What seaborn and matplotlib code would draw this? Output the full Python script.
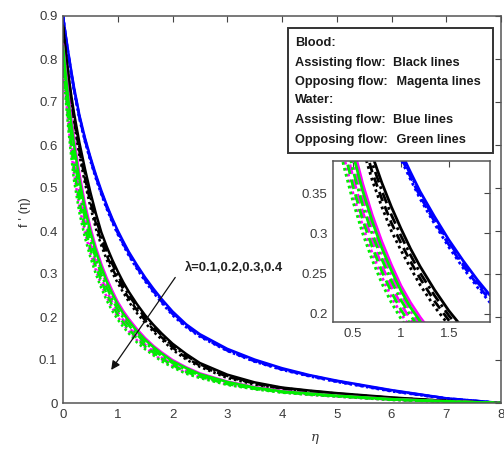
import matplotlib
matplotlib.use("Agg")
import matplotlib.pyplot as plt
import seaborn as sns
import pandas as pd
from matplotlib.patches import Rectangle

# similarity variable
eta = [0, 0.05, 0.1, 0.15, 0.2, 0.3, 0.4, 0.5, 0.6, 0.7, 0.8, 0.9, 1.0, 1.1, 1.2,
       1.35, 1.5, 1.65, 1.8, 2.0, 2.25, 2.5, 3.0, 3.5, 4.0, 4.5, 5.0, 6.0, 7.0, 8.0]
lambdas = [0.1, 0.2, 0.3, 0.4]

# f'(eta) for water, assisting flow
water_assist = {
    0.1: [0.900, 0.855, 0.813, 0.773, 0.735, 0.669, 0.617, 0.572, 0.531, 0.494, 0.460, 0.429, 0.401, 0.376, 0.352,
          0.321, 0.292, 0.266, 0.242, 0.213, 0.183, 0.160, 0.126, 0.101, 0.081, 0.065, 0.052, 0.030, 0.011, 0.000],
    0.2: [0.900, 0.853, 0.810, 0.770, 0.732, 0.666, 0.614, 0.569, 0.528, 0.491, 0.457, 0.426, 0.398, 0.373, 0.349,
          0.318, 0.289, 0.263, 0.239, 0.210, 0.180, 0.158, 0.124, 0.099, 0.079, 0.064, 0.051, 0.029, 0.011, 0.000],
    0.3: [0.900, 0.851, 0.807, 0.767, 0.729, 0.663, 0.611, 0.566, 0.525, 0.488, 0.454, 0.423, 0.395, 0.370, 0.346,
          0.315, 0.286, 0.260, 0.236, 0.207, 0.178, 0.156, 0.122, 0.097, 0.078, 0.063, 0.050, 0.028, 0.010, 0.000],
    0.4: [0.900, 0.849, 0.804, 0.764, 0.726, 0.660, 0.608, 0.563, 0.522, 0.485, 0.451, 0.420, 0.392, 0.367, 0.343,
          0.312, 0.283, 0.257, 0.233, 0.204, 0.176, 0.154, 0.121, 0.096, 0.077, 0.062, 0.049, 0.027, 0.010, 0.000],
}
# f'(eta) for blood, assisting flow
blood_assist = {
    0.1: [0.878, 0.817, 0.763, 0.716, 0.675, 0.605, 0.545, 0.490, 0.441, 0.397, 0.363, 0.333, 0.306, 0.281, 0.259,
          0.230, 0.204, 0.182, 0.162, 0.138, 0.114, 0.093, 0.066, 0.048, 0.036, 0.029, 0.023, 0.013, 0.005, 0.000],
    0.2: [0.876, 0.813, 0.757, 0.708, 0.667, 0.595, 0.534, 0.479, 0.429, 0.387, 0.353, 0.323, 0.297, 0.273, 0.251,
          0.223, 0.198, 0.177, 0.157, 0.133, 0.110, 0.090, 0.063, 0.046, 0.035, 0.028, 0.022, 0.012, 0.005, 0.000],
    0.3: [0.874, 0.809, 0.750, 0.699, 0.658, 0.585, 0.523, 0.467, 0.418, 0.376, 0.343, 0.313, 0.288, 0.265, 0.244,
          0.216, 0.192, 0.171, 0.153, 0.129, 0.105, 0.087, 0.061, 0.045, 0.033, 0.027, 0.021, 0.012, 0.004, 0.000],
    0.4: [0.872, 0.805, 0.744, 0.691, 0.650, 0.575, 0.512, 0.456, 0.406, 0.366, 0.333, 0.303, 0.279, 0.257, 0.236,
          0.209, 0.186, 0.166, 0.148, 0.124, 0.101, 0.084, 0.058, 0.043, 0.032, 0.026, 0.020, 0.011, 0.004, 0.000],
}
# f'(eta) for blood, opposing flow
blood_oppose = {
    0.1: [0.835, 0.773, 0.715, 0.663, 0.615, 0.533, 0.464, 0.408, 0.362, 0.323, 0.290, 0.261, 0.235, 0.214, 0.196,
          0.172, 0.151, 0.133, 0.118, 0.100, 0.083, 0.069, 0.050, 0.037, 0.028, 0.022, 0.017, 0.009, 0.004, 0.000],
    0.2: [0.825, 0.754, 0.692, 0.638, 0.588, 0.508, 0.442, 0.389, 0.345, 0.307, 0.275, 0.248, 0.224, 0.204, 0.186,
          0.163, 0.144, 0.127, 0.112, 0.095, 0.079, 0.066, 0.048, 0.036, 0.027, 0.021, 0.016, 0.008, 0.004, 0.000],
    0.3: [0.815, 0.734, 0.669, 0.612, 0.560, 0.481, 0.419, 0.369, 0.327, 0.291, 0.260, 0.234, 0.212, 0.193, 0.177,
          0.154, 0.136, 0.120, 0.106, 0.090, 0.074, 0.063, 0.045, 0.034, 0.026, 0.020, 0.016, 0.008, 0.003, 0.000],
    0.4: [0.805, 0.715, 0.646, 0.587, 0.533, 0.456, 0.397, 0.349, 0.309, 0.275, 0.246, 0.221, 0.200, 0.183, 0.167,
          0.146, 0.129, 0.114, 0.100, 0.086, 0.070, 0.060, 0.043, 0.033, 0.025, 0.019, 0.015, 0.007, 0.003, 0.000],
}
# f'(eta) for water, opposing flow
water_oppose = {
    0.1: [0.830, 0.763, 0.703, 0.650, 0.601, 0.519, 0.452, 0.398, 0.353, 0.315, 0.282, 0.254, 0.229, 0.208, 0.191,
          0.167, 0.147, 0.130, 0.115, 0.097, 0.081, 0.067, 0.049, 0.036, 0.027, 0.022, 0.017, 0.009, 0.004, 0.000],
    0.2: [0.820, 0.744, 0.680, 0.625, 0.574, 0.494, 0.430, 0.378, 0.335, 0.299, 0.268, 0.241, 0.217, 0.198, 0.181,
          0.159, 0.140, 0.124, 0.109, 0.093, 0.077, 0.064, 0.047, 0.035, 0.026, 0.021, 0.016, 0.008, 0.004, 0.000],
    0.3: [0.810, 0.724, 0.657, 0.599, 0.546, 0.467, 0.407, 0.358, 0.317, 0.283, 0.253, 0.227, 0.205, 0.187, 0.172,
          0.150, 0.132, 0.117, 0.103, 0.088, 0.072, 0.061, 0.044, 0.033, 0.025, 0.020, 0.016, 0.008, 0.003, 0.000],
    0.4: [0.800, 0.705, 0.634, 0.574, 0.519, 0.442, 0.385, 0.339, 0.300, 0.267, 0.238, 0.214, 0.194, 0.177, 0.162,
          0.141, 0.125, 0.111, 0.097, 0.083, 0.068, 0.058, 0.042, 0.032, 0.024, 0.019, 0.015, 0.007, 0.003, 0.000],
}

x_ticks = [0, 1, 2, 3, 4, 5, 6, 7, 8]
y_ticks = [0, 0.1, 0.2, 0.3, 0.4, 0.5, 0.6, 0.7, 0.8, 0.9]
y_tick_labels = ["0", "0.1", "0.2", "0.3", "0.4", "0.5", "0.6", "0.7", "0.8", "0.9"]
inset_x_ticks = [0.5, 1.0, 1.5]
inset_x_labels = ["0.5", "1", "1.5"]
inset_y_ticks = [0.2, 0.25, 0.3, 0.35]
inset_y_labels = ["0.2", "0.25", "0.3", "0.35"]

key_lines = [
    ("Blood:", ""),
    ("Assisting flow:", "Black lines"),
    ("Opposing flow:", " Magenta lines"),
    ("Water:", ""),
    ("Assisting flow:", "Blue lines"),
    ("Opposing flow:", " Green lines"),
]

# long-form table for seaborn
groups = [("water_assist", water_assist), ("blood_assist", blood_assist),
          ("blood_oppose", blood_oppose), ("water_oppose", water_oppose)]
rows = []
for name, table in groups:
    for lam in lambdas:
        for e, v in zip(eta, table[lam]):
            rows.append({"eta": e, "f": v, "group": name, "lam": lam})
df = pd.DataFrame(rows)

palette = {"water_assist": "#0000ff", "blood_assist": "#000000",
           "blood_oppose": "#ff00ff", "water_oppose": "#00ee00"}
dashes = {0.1: "", 0.2: (4, 1.5, 1, 1.5), 0.3: (3.5, 2), 0.4: (1, 1.2)}
hue_order = ["water_assist", "blood_assist", "blood_oppose", "water_oppose"]

sns.set_style("white")
plt.rcParams["font.family"] = ["Liberation Sans", "DejaVu Sans"]

fig = plt.figure(figsize=(5.04, 4.51), dpi=100)
W, H = 504.0, 451.0
ax = fig.add_axes([63 / W, 1 - 403 / H, 438 / W, 387 / H])

def draw(axis, lw):
    sns.lineplot(data=df, x="eta", y="f", hue="group", style="lam",
                 hue_order=hue_order, palette=palette, dashes=dashes,
                 estimator=None, errorbar=None, sort=False, legend=False,
                 linewidth=lw, ax=axis)

def style_axes(axis, xt, xl, yt, yl):
    axis.set_xticks(xt)
    axis.set_xticklabels(xl)
    axis.set_yticks(yt)
    axis.set_yticklabels(yl)
    axis.tick_params(direction="in", top=True, right=True, length=4, width=0.8,
                     labelsize=9.5, labelcolor="#3a3a3a", color="#444444", pad=4)
    for s in axis.spines.values():
        s.set_color("#555555")
        s.set_linewidth(1.1)
    axis.set_xlabel("")
    axis.set_ylabel("")

draw(ax, 1.8)
ax.set_xlim(0, 8)
ax.set_ylim(0, 0.9)
style_axes(ax, x_ticks, [str(t) for t in x_ticks], y_ticks, y_tick_labels)

fig.text(315 / W, 1 - 437 / H, "η", ha="center", va="center", fontsize=9.5,
         family="DejaVu Serif", style="italic", color="#333333")
fig.text(25 / W, 1 - 212 / H, "f ' (η)", ha="center", va="center", fontsize=9.5,
         rotation=90, color="#333333")

# parameter arrow
ax.annotate("", xy=(0.88, 0.077), xytext=(2.05, 0.292),
            arrowprops=dict(arrowstyle="-|>", color="#111111", lw=0.9,
                            mutation_scale=13, shrinkA=0, shrinkB=0))
ax.text(2.22, 0.313, "λ=0.1,0.2,0.3,0.4", fontsize=9.4, fontweight="bold",
        ha="left", va="center", color="#222222")

# colour key box
fig.patches.append(Rectangle((288 / W, 1 - 153 / H), 205 / W, 125 / H,
                             transform=fig.transFigure, facecolor="white",
                             edgecolor="#333333", linewidth=1.4, zorder=5))
y_rows = [43, 63, 82, 100, 120, 140]
for (left, right), yp in zip(key_lines, y_rows):
    fig.text(295 / W, 1 - yp / H, left, fontsize=9.2, fontweight="bold",
             ha="left", va="center", color="#1a1a1a", zorder=6)
    if right:
        fig.text(393 / W, 1 - yp / H, right, fontsize=9.2, fontweight="bold",
                 ha="left", va="center", color="#1a1a1a", zorder=6)

# zoomed inset
axi = fig.add_axes([333 / W, 1 - 322 / H, 157 / W, 161 / H])
draw(axi, 2.0)
axi.set_xlim(0.29, 1.93)
axi.set_ylim(0.19, 0.39)
style_axes(axi, inset_x_ticks, inset_x_labels, inset_y_ticks, inset_y_labels)

fig.savefig("out.png", dpi=100, facecolor="white")
